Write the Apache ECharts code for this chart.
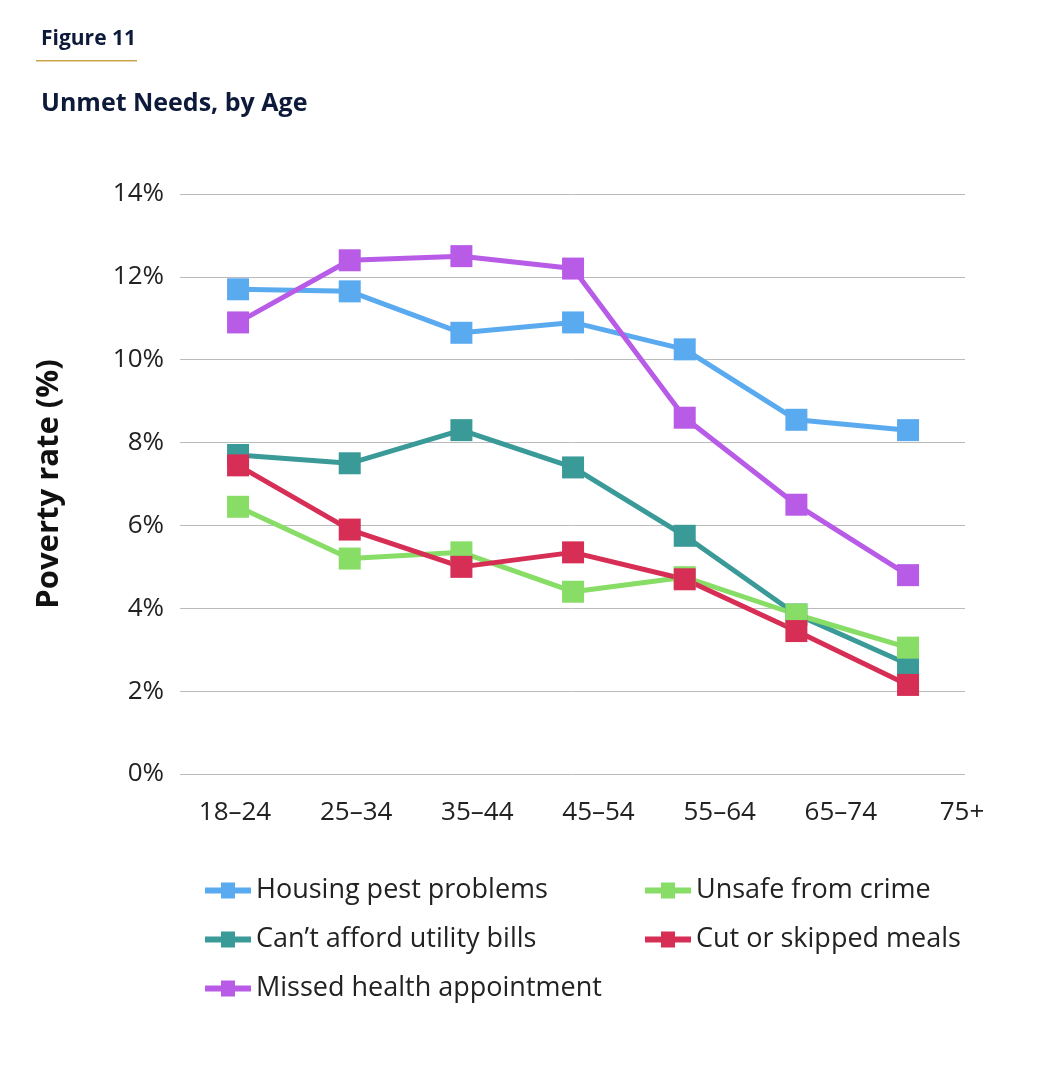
<!DOCTYPE html>
<html><head><meta charset="utf-8">
<script src="https://cdn.jsdelivr.net/npm/echarts@6/dist/echarts.min.js"></script>
<style>html,body{margin:0;background:#fff}#c{width:1050px;height:1070px}</style>
</head><body><div id="c"></div>
<script>
const categories = ['18–24','25–34','35–44','45–54','55–64','65–74','75+'];
const pest = [11.7, 11.65, 10.65, 10.9, 10.25, 8.55, 8.3];
const utility = [7.7, 7.5, 8.3, 7.4, 5.75, 3.85, 2.65];
const health = [10.9, 12.4, 12.5, 12.2, 8.6, 6.5, 4.8];
const crime = [6.45, 5.2, 5.35, 4.4, 4.75, 3.85, 3.05];
const meals = [7.45, 5.9, 5.0, 5.35, 4.7, 3.45, 2.15];
const names = ['Housing pest problems','Can’t afford utility bills','Missed health appointment','Unsafe from crime','Cut or skipped meals'];
const colors = ['#5aaaf0','#3a9a98','#b85ce8','#88dd66','#d62e55'];
const data = [pest, utility, health, crime, meals];
const F = '"Open Sans", sans-serif';
const chart = echarts.init(document.getElementById('c'));
const legendBase = {orient:'vertical', itemGap:22, itemWidth:46, itemHeight:16, icon:'path://M0,5H16V0H30V5H46V11H30V16H16V11H0Z',
  textStyle:{fontSize:27, color:'#222', fontFamily:F}, selectedMode:false};
chart.setOption({
  animation:false,
  title:[
    {text:'Figure 11', left:36, top:24, textStyle:{fontSize:21, fontWeight:'bold', color:'#0d1a3a', fontFamily:F}},
    {text:'Unmet Needs, by Age', left:36, top:86, textStyle:{fontSize:25, fontWeight:'bold', color:'#0d1a3a', fontFamily:F}}
  ],
  graphic:[{type:'rect', shape:{x:36,y:60,width:101,height:1.5}, style:{fill:'#c9a54a'}}],
  legend:[
    Object.assign({data:names.slice(0,3), left:200, top:872}, legendBase),
    Object.assign({data:names.slice(3), left:640, top:872}, legendBase)
  ],
  grid:[{left:180, right:85, top:194, bottom:296},{left:235, right:88, top:194, bottom:296}],
  xAxis:[
    {type:'value', gridIndex:0, min:-0.52, max:6.51, show:false},
    {type:'category', gridIndex:1, data:categories, boundaryGap:false,
     axisLine:{show:false}, axisTick:{show:false},
     axisLabel:{fontSize:26, color:'#222', margin:26, fontFamily:F}}
  ],
  yAxis:[
    {type:'value', gridIndex:0, min:0, max:14, interval:2,
     name:'Poverty rate (%)', nameLocation:'middle', nameGap:115,
     nameTextStyle:{fontSize:31, fontWeight:'bold', color:'#111', fontFamily:F},
     axisLabel:{formatter:'{value}%', fontSize:26, color:'#222', margin:16, fontFamily:F},
     axisLine:{show:false}, axisTick:{show:false},
     splitLine:{lineStyle:{color:'#bbb', width:1}}},
    {type:'value', gridIndex:1, min:0, max:14, show:false}
  ],
  series: names.map((n,i)=>({
    name:n, type:'line', xAxisIndex:0, yAxisIndex:0,
    data:data[i].map((v,j)=>[j,v]),
    symbol:'rect', symbolSize:22,
    lineStyle:{width:5, color:colors[i]}, itemStyle:{color:colors[i]}
  }))
});
</script></body></html>
